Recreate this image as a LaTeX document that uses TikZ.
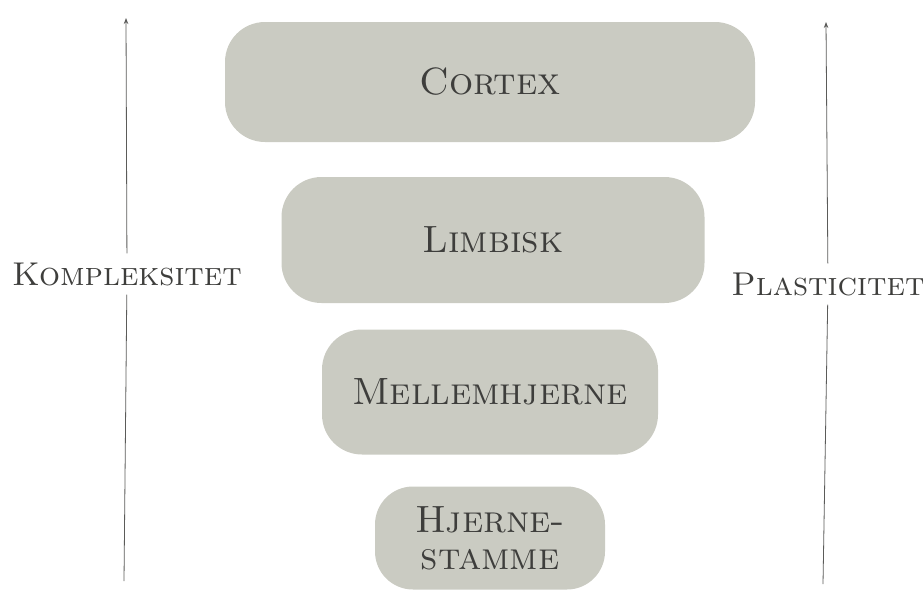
\documentclass[tikz,border=0pt]{standalone}
\usepackage{tikz}
\usetikzlibrary{arrows.meta}
\definecolor{boxgray}{RGB}{202,203,194}
\definecolor{inkgray}{RGB}{62,62,60}

\begin{document}
\begin{tikzpicture}[x=1pt,y=-1pt,
  layer/.style={fill=boxgray,rounded corners=40pt,inner sep=0pt,
                text=inkgray,align=center,
                font=\fontsize{38}{37}\selectfont\scshape},
  axislabel/.style={text=inkgray,inner sep=9pt,
                    font=\fontsize{33}{36}\selectfont\scshape},
  axisline/.style={draw=inkgray!85,line width=0.8pt},
  axisarrow/.style={axisline,-{Stealth[length=6pt,width=4.5pt]}}]
  \useasboundingbox (0,0) rectangle (923,592);
  % The four layers of the brain, widest at the top.
  \node[layer,minimum width=530pt,minimum height=120pt] (cortex) at (490,82) {Cortex};
  \node[layer,minimum width=423pt,minimum height=126pt] (limbisk) at (493,240) {Limbisk};
  \node[layer,minimum width=336pt,minimum height=125pt] (mellem) at (490,392) {Mellemhjerne};
  \node[layer,minimum width=230pt,minimum height=103pt,rounded corners=38pt]
    (stamme) at (490,538) {Hjerne-\\stamme};

  % Left axis: complexity grows upwards.
  \coordinate (kbot) at (124,581);
  \coordinate (ktop) at (126,18);
  \node[axislabel] (komp) at (127,274) {Kompleksitet};
  \draw[axisline] (kbot) -- (komp);
  \draw[axisarrow] (komp) -- (ktop);

  % Right axis: plasticity grows downwards.
  \coordinate (pbot) at (823,584);
  \coordinate (ptop) at (826,22);
  \node[axislabel] (plast) at (828,284) {Plasticitet};
  \draw[axisline] (pbot) -- (plast);
  \draw[axisarrow] (plast) -- (ptop);
\end{tikzpicture}
\end{document}
